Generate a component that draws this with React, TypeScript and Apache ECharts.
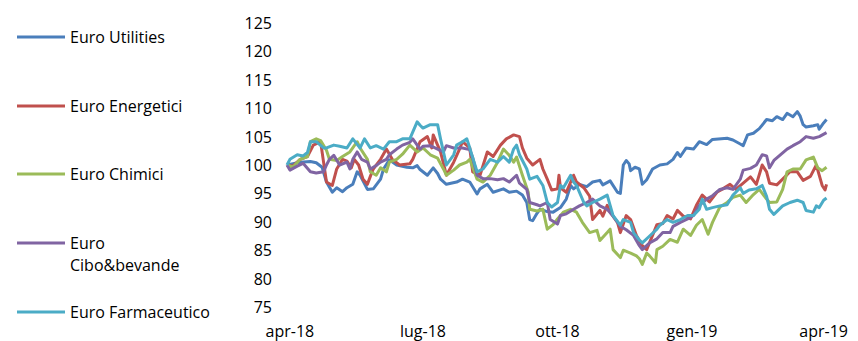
import React, { useEffect, useRef } from "react";
import * as echarts from "echarts";

// x = days from 1 Apr 2018, y = index (start = 100)
const seriesNames = [
  "Euro Utilities",
  "Euro Energetici",
  "Euro Chimici",
  "Euro Cibo&bevande",
  "Euro Farmaceutico",
];
const legendLabels = [
  "Euro Utilities",
  "Euro Energetici",
  "Euro Chimici",
  "Euro\nCibo&bevande",
  "Euro Farmaceutico",
];
const colors = ["#4A7EBB", "#C0504D", "#9BBB59", "#8064A2", "#4BACC6"];

const tickDays = [0, 91, 183, 275, 365];
const tickLabels = ["apr-18", "lug-18", "ott-18", "gen-19", "apr-19"];

const utilities = [
  [-2, 100], [7, 100.5], [14, 100.6], [18, 100.4], [22, 99.6], [25, 97], [29, 95.2], [32, 96],
  [36, 95.3], [39, 96], [43, 96.6], [46, 98.8], [48, 98.2], [53, 95.7], [57, 95.8], [62, 97.5],
  [64, 99.3], [68, 100.9], [73, 100], [80, 99.6], [84, 99.5], [87, 99.9], [89, 99.2], [94, 98.2],
  [98, 99.5], [101, 98.5], [103, 97.5], [107, 96.6], [114, 97], [118, 97.5], [123, 97], [128, 94.9],
  [130, 95.8], [135, 96.6], [139, 95.2], [146, 95.8], [150, 95.2], [155, 95.4], [159, 94.7], [162, 93.4],
  [164, 90.4], [166, 90.2], [169, 91.5], [171, 92.2], [176, 91.8], [180, 91.7], [185, 92.5], [189, 94],
  [192, 96.4], [194, 95.8], [198, 96.6], [203, 96.2], [207, 97], [212, 97.3], [214, 96.5], [219, 97.2],
  [224, 95.2], [226, 95], [228, 100], [230, 100.8], [232, 100.2], [233, 99], [236, 99.6], [239, 99.3],
  [241, 96.6], [244, 97.4], [248, 99.3], [253, 100], [258, 100.2], [262, 101], [265, 102.2], [267, 101.5],
  [271, 103], [276, 102.8], [280, 104.1], [285, 103.6], [289, 104.5], [299, 104.7], [303, 104.4], [308, 103.7],
  [310, 103.4], [313, 105.3], [317, 105.6], [321, 106.4], [326, 108], [330, 107.8], [333, 108.5], [337, 108],
  [340, 109.1], [344, 108.5], [347, 109.4], [349, 108.6], [351, 107.1], [353, 106.7], [358, 106.9], [361, 107.1],
  [362, 106.3], [365, 107.4], [367, 108],
];

const energetici = [
  [-2, 100], [2, 99.8], [7, 101], [12, 101.5], [16, 103.5], [21, 104.1], [23, 100.5], [25, 97],
  [29, 96.4], [32, 99.3], [36, 101], [39, 100.7], [42, 99.5], [44, 101], [47, 100], [50, 97.5],
  [53, 96.6], [55, 98], [57, 99.3], [62, 101], [66, 102.8], [70, 101], [75, 100], [82, 100.2],
  [84, 101], [89, 104.1], [94, 105], [97, 103], [98, 105.3], [103, 102.3], [107, 98.2], [112, 100.5],
  [116, 102.8], [118, 104.1], [123, 103], [125, 98.8], [130, 98.2], [135, 102.3], [139, 101.5], [144, 103.5],
  [148, 104.6], [153, 105.3], [157, 105], [159, 103], [162, 101.2], [166, 100], [171, 101], [173, 99.3],
  [176, 97.5], [179, 95.6], [183, 95.8], [184, 98.2], [185, 96], [189, 95.2], [194, 98.2], [196, 97],
  [201, 96], [205, 94.5], [207, 90.4], [212, 92], [214, 91], [217, 92.9], [219, 91.7], [224, 89.9],
  [226, 88.1], [230, 91.1], [233, 90.4], [237, 87.6], [241, 85.8], [244, 85.1], [248, 87.6], [251, 89.5],
  [255, 89.7], [258, 91.1], [262, 90.5], [265, 92], [269, 91], [274, 90.5], [278, 92.9], [282, 94.7],
  [287, 93.5], [292, 95.2], [296, 95.8], [301, 96.6], [305, 95.7], [310, 96.8], [315, 97.9], [319, 96.6],
  [323, 100], [326, 98.8], [328, 96.8], [333, 96.5], [337, 97.5], [342, 98.8], [347, 98.8], [351, 97.3],
  [356, 98], [360, 100], [364, 96.4], [366, 95.6], [367, 96.6],
];

const chimici = [
  [-2, 100], [2, 99.6], [7, 101], [12, 101.5], [14, 104.1], [18, 104.6], [21, 104.3], [25, 102.6],
  [27, 101], [32, 100.8], [36, 101.5], [41, 102.3], [46, 104.1], [48, 103], [53, 101], [55, 98.8],
  [59, 98.2], [62, 99.5], [66, 98.8], [68, 100.5], [73, 101], [77, 101.9], [82, 103.5], [87, 102.3],
  [91, 103], [96, 101.8], [101, 101.2], [105, 99.3], [107, 98.2], [112, 99.1], [116, 100], [121, 100.5],
  [123, 101], [128, 97.5], [132, 97], [137, 98.2], [142, 100.5], [146, 102.8], [150, 101.7], [153, 100.5],
  [155, 101.4], [159, 98.2], [163, 95.2], [164, 92.2], [169, 91.9], [173, 92.2], [176, 88.7], [180, 89.5],
  [183, 90.5], [187, 91.7], [192, 92.2], [196, 91.7], [200, 89.9], [205, 88.1], [210, 88.5], [212, 86.7],
  [217, 88.1], [219, 88.7], [221, 85.1], [226, 83.7], [228, 85], [233, 84.5], [237, 84], [239, 83.5],
  [241, 82.5], [244, 84.5], [246, 84], [250, 82.8], [251, 85.1], [255, 85.7], [260, 86.9], [265, 86.4],
  [269, 88.7], [274, 87.6], [278, 89.4], [282, 90.4], [286, 87.8], [289, 89.9], [294, 92.6], [299, 93.4],
  [303, 94.3], [308, 94.7], [312, 93.4], [317, 94.8], [321, 95.7], [326, 94], [328, 93.4], [333, 93.5],
  [337, 95.7], [340, 98.8], [344, 99.3], [349, 99.3], [353, 100.9], [358, 101.4], [361, 99.5], [364, 99],
  [367, 99.6],
];

const ciboBevande = [
  [-2, 100], [0, 99.1], [5, 99.8], [9, 100.3], [14, 98.8], [18, 98.6], [23, 98.8], [25, 100],
  [27, 101], [30, 101.7], [34, 100], [39, 100.5], [41, 99.3], [43, 101], [46, 102.3], [49, 101],
  [53, 100.5], [55, 99.3], [59, 99.9], [62, 100.5], [66, 101], [68, 101.8], [73, 102.8], [77, 103.5],
  [82, 104], [84, 104.6], [89, 102.8], [91, 103.3], [96, 103.4], [101, 102.8], [105, 102.3], [107, 103.4],
  [112, 103], [118, 103], [123, 102.7], [125, 101.3], [128, 98.2], [132, 97.6], [137, 97.6], [142, 97.4],
  [146, 97.6], [150, 97], [155, 98.2], [157, 96.8], [162, 95.7], [164, 93.4], [169, 93], [171, 92.8],
  [176, 93.4], [178, 90.4], [183, 89.6], [185, 91.1], [189, 91.4], [194, 92.2], [198, 92.8], [203, 93.4],
  [207, 94], [212, 92.8], [217, 92.2], [221, 91], [226, 89.2], [230, 88.6], [235, 87.6], [239, 85.8],
  [241, 85.1], [246, 86.3], [251, 87], [255, 88.1], [260, 88.1], [262, 89.2], [267, 89.9], [272, 90.5],
  [276, 91.1], [280, 92.9], [285, 94], [289, 94.6], [294, 95.7], [299, 96], [303, 95.7], [308, 97.5],
  [310, 99.1], [315, 99.4], [319, 100], [323, 101.8], [326, 101.6], [328, 99.5], [331, 100.8], [335, 101.7],
  [340, 102.8], [344, 103.4], [349, 104.1], [353, 105], [358, 104.7], [362, 105], [367, 105.7],
];

const farmaceutico = [
  [-2, 100], [0, 101], [5, 101.8], [9, 101.6], [12, 102.2], [14, 104.1], [18, 104.1], [23, 103],
  [25, 103], [30, 103.5], [34, 103.3], [39, 103], [43, 104.6], [48, 103], [51, 104.6], [55, 103],
  [59, 103.4], [64, 102.8], [68, 104.1], [73, 104.1], [77, 104.6], [82, 104.6], [87, 107.6], [89, 107],
  [91, 106.5], [96, 107.1], [101, 107.1], [103, 104.6], [105, 102.3], [107, 100], [112, 101.8], [114, 103.5],
  [118, 104.1], [121, 104.6], [123, 103], [125, 101.3], [128, 98.8], [132, 99.3], [137, 101], [142, 100.5],
  [146, 101.5], [150, 100.5], [153, 102.8], [155, 103.5], [157, 101.8], [162, 99.3], [164, 97.5], [169, 98],
  [173, 96.4], [176, 93.4], [179, 92.6], [183, 93.4], [185, 96.4], [187, 96], [192, 98.2], [194, 97],
  [196, 96.4], [201, 93.4], [203, 92.8], [207, 93.4], [212, 94], [217, 94.7], [221, 91.1], [226, 89.4],
  [228, 90.4], [233, 89.9], [235, 88.1], [239, 86.8], [241, 86.3], [246, 87.5], [251, 88.7], [253, 89.4],
  [258, 90.4], [262, 89.9], [267, 90.4], [272, 91.1], [276, 91.1], [280, 92.2], [282, 94], [285, 92.2],
  [289, 92.5], [294, 92.8], [299, 93], [303, 94.7], [308, 96], [310, 95], [314, 95.6], [319, 95.8],
  [323, 96.4], [326, 94.5], [328, 92.2], [331, 91.3], [337, 92.8], [342, 93.4], [347, 93.8], [351, 93.4],
  [353, 92], [358, 91.7], [360, 92.8], [362, 92.5], [365, 93.8], [367, 94.2],
];

const seriesData = [utilities, energetici, chimici, ciboBevande, farmaceutico];

const FONT = "'Open Sans', sans-serif";
const FS = 16;

export default function App() {
  const ref = useRef<HTMLDivElement>(null);
  useEffect(() => {
    if (!ref.current) return;
    const chart = echarts.init(ref.current, null, { renderer: "svg" });
    const legendY = [37, 106, 174, 243, 312];
    const graphic: any[] = [];
    seriesNames.forEach((_, i) => {
      graphic.push({
        type: "line",
        shape: { x1: 17, y1: legendY[i], x2: 65, y2: legendY[i] },
        style: { stroke: colors[i], lineWidth: 3 },
      });
      const multi = legendLabels[i].indexOf("\n") >= 0;
      graphic.push({
        type: "text",
        x: 70,
        y: multi ? legendY[i] - 11 : legendY[i],
        style: {
          text: legendLabels[i],
          fill: "#000",
          font: `${FS}px ${FONT}`,
          lineHeight: 22,
          verticalAlign: multi ? "top" : "middle",
          align: "left",
        },
      });
    });
    chart.setOption({
      animation: false,
      backgroundColor: "#fff",
      grid: { left: 287, right: 30, top: 23, bottom: 34, containLabel: false },
      xAxis: {
        type: "value",
        min: -2,
        max: 368,
        axisLine: { show: false },
        axisTick: { show: false },
        splitLine: { show: false },
        axisLabel: {
          customValues: tickDays,
          formatter: (v: number) => {
            const k = tickDays.indexOf(Math.round(v));
            return k >= 0 ? tickLabels[k] : "";
          },
          margin: 16,
          color: "#000",
          fontSize: FS,
          fontFamily: FONT,
        },
      },
      yAxis: {
        type: "value",
        min: 75,
        max: 125,
        interval: 5,
        axisLine: { show: false },
        axisTick: { show: false },
        splitLine: { show: false },
        axisLabel: { margin: 15, color: "#000", fontSize: FS, fontFamily: FONT },
      },
      graphic,
      series: seriesNames.map((name, i) => ({
        name,
        type: "line",
        data: seriesData[i],
        showSymbol: false,
        symbol: "none",
        lineStyle: { color: colors[i], width: 3, join: "round" },
        itemStyle: { color: colors[i] },
      })),
    });
    return () => chart.dispose();
  }, []);
  return (
    <div
      ref={ref}
      style={{ position: "absolute", left: 0, top: 0, width: 858, height: 341 }}
    />
  );
}
